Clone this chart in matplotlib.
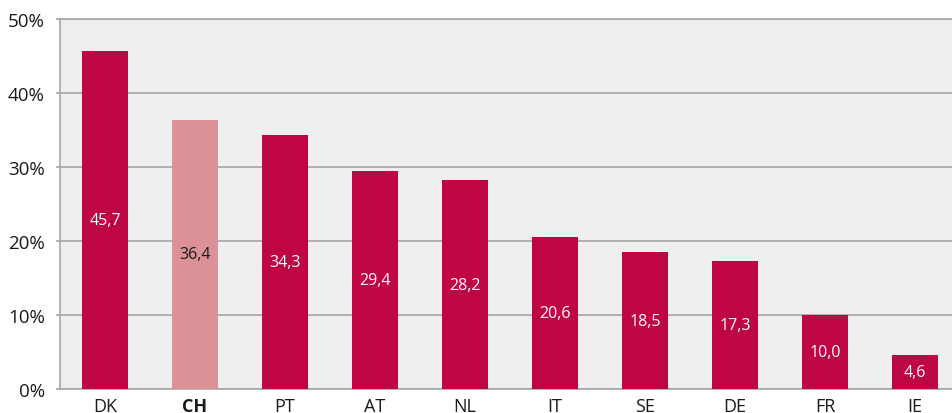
import matplotlib.pyplot as plt
from matplotlib.ticker import FuncFormatter

countries = ['DK', 'CH', 'PT', 'AT', 'NL', 'IT', 'SE', 'DE', 'FR', 'IE']
shares = [45.7, 36.4, 34.3, 29.4, 28.2, 20.6, 18.5, 17.3, 10.0, 4.6]
highlight = 'CH'

BAR_COLOR = '#be0646'
HIGHLIGHT_COLOR = '#dc9199'
GRID_COLOR = '#a6a6a6'

plt.rcParams['font.family'] = ['Open Sans', 'DejaVu Sans']

fig = plt.figure(figsize=(9.52, 4.14), dpi=100)
ax = fig.add_axes([60 / 952, 24 / 414, 900 / 952, 370 / 414])
ax.set_facecolor('#efefef')

colors = [HIGHLIGHT_COLOR if c == highlight else BAR_COLOR for c in countries]
x = range(len(countries))
bars = ax.bar(x, shares, width=0.51, color=colors, zorder=3)

for bar, c, v in zip(bars, countries, shares):
    ax.text(bar.get_x() + bar.get_width() / 2, v / 2,
            f'{v:.1f}'.replace('.', ','),
            ha='center', va='center', fontsize=11.5,
            color='#1a1a1a' if c == highlight else 'white', zorder=4)

ax.set_xlim(-0.5, len(countries) - 0.5)
ax.set_ylim(0, 50)
ax.set_yticks(range(0, 51, 10))
ax.yaxis.set_major_formatter(FuncFormatter(lambda v, _: f'{v:.0f}%'))
ax.grid(axis='y', color=GRID_COLOR, linewidth=1.2, zorder=1)

ax.set_xticks(list(x))
ax.set_xticklabels(countries)
for lbl in ax.get_xticklabels():
    if lbl.get_text() == highlight:
        lbl.set_fontweight('bold')

ax.tick_params(axis='x', length=0, pad=5.5, labelsize=13, colors='#1a1a1a')
ax.tick_params(axis='y', length=3, width=1.2, color=GRID_COLOR, pad=8,
               labelsize=13.5, labelcolor='#1a1a1a')

for side in ['top', 'bottom', 'left', 'right']:
    ax.spines[side].set_color(GRID_COLOR)
    ax.spines[side].set_linewidth(1.2)

fig.savefig('out.png', dpi=100)
